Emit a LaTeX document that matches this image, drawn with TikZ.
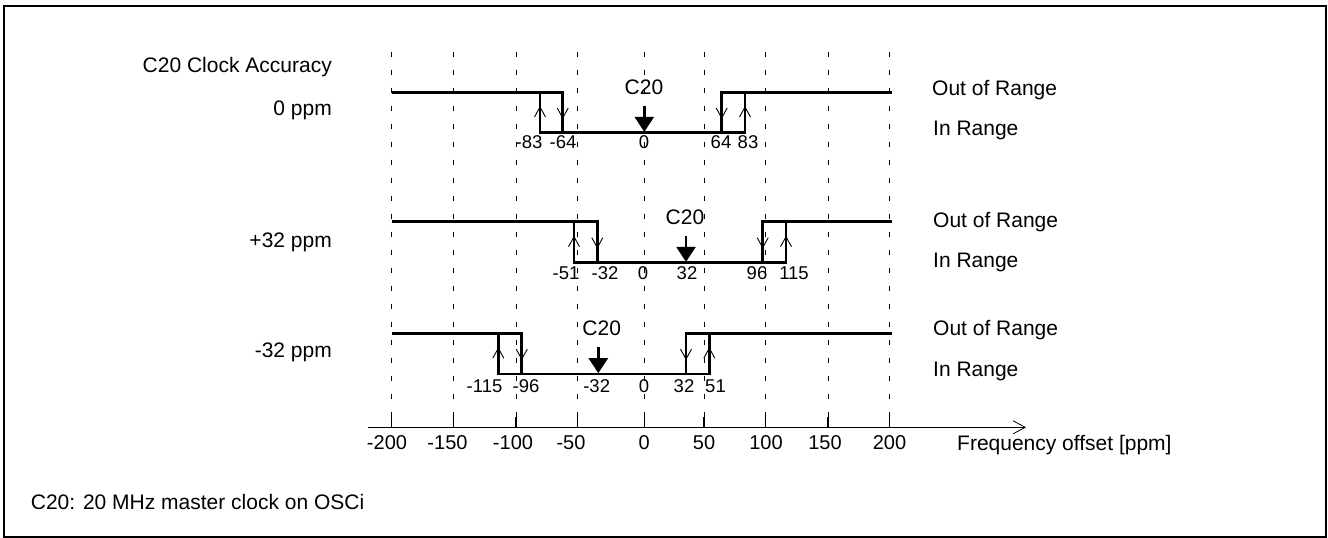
\documentclass[tikz,border=0pt]{standalone}
\usepackage{fontspec}
\setmainfont{Liberation Sans}
\usetikzlibrary{arrows.meta}
\begin{document}
\begin{tikzpicture}[x=1pt,y=-1pt,
  txt/.style={font=\fontsize{21}{25}\selectfont, inner sep=0pt, anchor=base},
  num/.style={font=\fontsize{18.5}{21}\selectfont, inner sep=0pt, anchor=base},
  ticklbl/.style={font=\fontsize{20}{24}\selectfont, inner sep=0pt, anchor=base},
  sig/.style={line width=2.6pt},
  gridline/.style={line width=0.8pt, dash pattern=on 5pt off 13pt},
  axtick/.style={line width=1.2pt},
  chev/.style={line width=0.9pt},
  c20arrow/.style={line width=2.4pt, -{Triangle[length=15pt,width=19pt]}},
  axisline/.style={line width=1.2pt, -{Straight Barb[length=12pt,width=13pt,line width=0.8pt]}},
]
\useasboundingbox (0,0) rectangle (1328,538);
\draw[line width=2pt] (4,6) rectangle (1326,537);

% grid and axis ticks
\foreach \gx in {391.7,453.3,516,577.3,644.3,704,765.7,828,889.3} {
  \draw[gridline] (\gx,51.5) -- (\gx,417);
  \draw[axtick] (\gx,416.5) -- (\gx,427.3);
}

% axis
\coordinate (axstart) at (368,427.3);
\coordinate (axend) at (1026,427.3);
\draw[axisline] (axstart) -- (axend);

% tick labels
\node[ticklbl] (tm200) at (387,449) {-200};
\node[ticklbl] (tm150) at (447.5,449) {-150};
\node[ticklbl] (tm100) at (513,449) {-100};
\node[ticklbl] (tm50)  at (571,449) {-50};
\node[ticklbl] (t0)    at (644.3,449) {0};
\node[ticklbl] (t50)   at (704,449) {50};
\node[ticklbl] (t100)  at (766,449) {100};
\node[ticklbl] (t150)  at (825,449) {150};
\node[ticklbl] (t200)  at (889.5,449) {200};
\node[txt, anchor=base west] (freq) at (957,450) {Frequency offset [ppm]};

% rows: high / low / outer-left / inner-left / inner-right / outer-right / C20 x
\foreach \H/\L/\oL/\iL/\iR/\oR/\cx in {92.3/132.7/540/562.7/721.7/745/644.3,
    221.7/262.7/574/597.3/762.7/786/686,
    333.3/374/498.3/521.7/686/709.3/598.3} {
  \pgfmathsetmacro\M{(\H+\L)/2}
  \draw[sig] (391.7,\H) -- (\iL,\H) -- (\iL,\L);
  \draw[sig] (\oL,\H) -- (\oL,\L) -- (\oR,\L) -- (\oR,\H);
  \draw[sig] (\iR,\L) -- (\iR,\H) -- (892,\H);
  % up chevrons on outer verticals
  \draw[chev] (\oL-5.5,\M+4.5) -- (\oL,\M-5.5) -- (\oL+5.5,\M+4.5);
  \draw[chev] (\oR-5.5,\M+4.5) -- (\oR,\M-5.5) -- (\oR+5.5,\M+4.5);
  % down chevrons on inner verticals
  \draw[chev] (\iL-5.5,\M-4.5) -- (\iL,\M+5.5) -- (\iL+5.5,\M-4.5);
  \draw[chev] (\iR-5.5,\M-4.5) -- (\iR,\M+5.5) -- (\iR+5.5,\M-4.5);
  % C20 arrow
  \draw[c20arrow] (\cx,\L-26.7) -- (\cx,\L-0.8);
}

% C20 labels
\node[txt] (c1) at (644,94.2) {C20};
\node[txt] (c2) at (685,224.2) {C20};
\node[txt] (c3) at (601.7,335.8) {C20};

% row 1 numbers
\node[num] (r1a) at (529,148.1) {-83};
\node[num] (r1b) at (563,148.1) {-64};
\node[num] (r1c) at (644,148.1) {0};
\node[num] (r1d) at (721,148.1) {64};
\node[num] (r1e) at (748,148.1) {83};
% row 2 numbers
\node[num] (r2a) at (566,279.1) {-51};
\node[num] (r2b) at (605,279.1) {-32};
\node[num] (r2c) at (643,279.1) {0};
\node[num] (r2d) at (687,279.1) {32};
\node[num] (r2e) at (757,279.1) {96};
\node[num] (r2f) at (794,279.1) {115};
% row 3 numbers
\node[num] (r3a) at (484.5,392.4) {-115};
\node[num] (r3b) at (526,392.4) {-96};
\node[num] (r3c) at (596.7,392.4) {-32};
\node[num] (r3d) at (644,392.4) {0};
\node[num] (r3e) at (684,392.4) {32};
\node[num] (r3f) at (715.5,392.4) {51};

% left labels
\node[txt, anchor=base east] (acc) at (332,72.5) {C20 Clock Accuracy};
\node[txt, anchor=base east] (p0) at (332,115.5) {0 ppm};
\node[txt, anchor=base east] (p1) at (332,247.5) {+32 ppm};
\node[txt, anchor=base east] (p2) at (332,357.5) {-32 ppm};

% right labels
\node[txt, anchor=base west] (o1) at (932,95) {Out of Range};
\node[txt, anchor=base west] (i1) at (933,135.2) {In Range};
\node[txt, anchor=base west] (o2) at (933,227.1) {Out of Range};
\node[txt, anchor=base west] (i2) at (933,267.3) {In Range};
\node[txt, anchor=base west] (o3) at (933,335.2) {Out of Range};
\node[txt, anchor=base west] (i3) at (933,376.4) {In Range};

% footnote
\node[txt, anchor=base west] (note) at (30.7,509) {C20: 20 MHz master clock on OSCi};
\end{tikzpicture}
\end{document}
